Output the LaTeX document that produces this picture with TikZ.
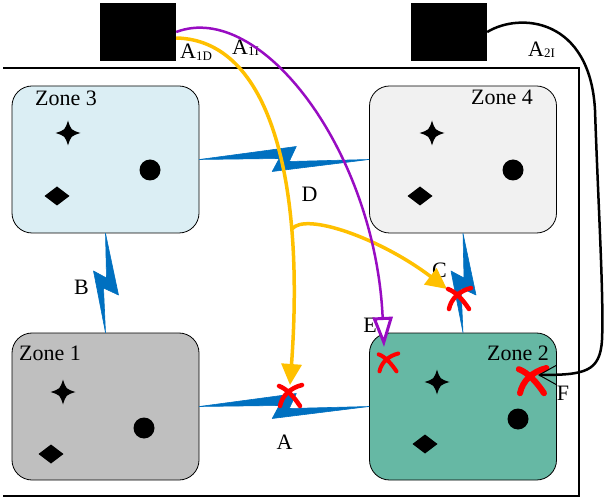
\documentclass[tikz,border=0pt]{standalone}
\usepackage{fontspec}
\setmainfont{Liberation Serif}
\usetikzlibrary{calc,arrows.meta}
\definecolor{zoneblue}{HTML}{DBEEF4}
\definecolor{zonegrey}{HTML}{F1F1F1}
\definecolor{zonedark}{HTML}{BFBFBF}
\definecolor{zonegreen}{HTML}{66B8A4}
\definecolor{linkblue}{HTML}{0070C0}
\definecolor{pathyellow}{HTML}{FFC000}
\definecolor{pathpurple}{HTML}{980CC2}

\begin{document}
\begin{tikzpicture}[x=1pt, y=-1pt, font=\fontsize{22}{26}\selectfont,
        zone/.style = {draw, rounded corners=20pt, minimum width=187pt, minimum height=147pt, line width=0.8pt},
        blackbox/.style = {fill=black, minimum width=76pt, minimum height=58pt, inner sep=0pt},
        link/.style = {fill=linkblue, draw=linkblue, line width=0.6pt, line join=round},
        lbl/.style = {inner sep=0pt},
        cross/.style = {draw=red, line cap=round}]
        \useasboundingbox (0,0) rectangle (607,502);
        \draw [line width=1.6pt] (3,68) -| (579,496) -- (3,496);

        \node [zone, fill=zoneblue] (z3) at (105.5,159.5) {};
        \node [zone, fill=zonegrey] (z4) at (463,159.5) {};
        \node [zone, fill=zonedark] (z1) at (105.5,406.5) {};
        \node [zone, fill=zonegreen] (z2) at (463,406.5) {};

        \node [lbl, anchor=base west] (t3) at (35,106) {Zone 3};
        \node [lbl, anchor=base west] (t4) at (471,105) {Zone 4};
        \node [lbl, anchor=base west] (t1) at (19,360) {Zone 1};
        \node [lbl, anchor=base west] (t2) at (487,360) {Zone 2};

        \node [blackbox] (s1) at (138,32) {};
        \node [blackbox] (s2) at (449,32) {};

        \foreach \x/\y in {68/133, 432/133, 63/392, 437/382}
                 {
                   \fill [shift={(\x,\y)}] (0,-12.5) .. controls (3,-3) .. (12.5,0) .. controls (3,3) .. (0,12.5)
                         .. controls (-3,3) .. (-12.5,0) .. controls (-3,-3) .. (0,-12.5) -- cycle;
                 }
        \foreach \x/\y in {150/170, 513/170, 144/428, 518/419}
                 {
                   \fill (\x,\y) circle (10.5pt);
                 }
        \foreach \x/\y in {57/196, 420/196, 51/454, 425/444}
                 {
                   \fill (\x,\y) +(-12.5,0) -- +(0,-9.5) -- +(12.5,0) -- +(0,9.5) -- cycle;
                 }

        \foreach \a/\b/\r in {z3.east/z4.west/0, z1.east/z2.west/0, z3.south/z1.north/-90, z4.south/z2.north/-90}
                 {
                   \begin{scope}[shift={($(\a)!.5!(\b)$)}, rotate=\r]
                     \filldraw [link] (\a) -- (12,-13) -- (5,2) -- (\b) -- (-12,12) -- (-5,-1) -- cycle;
                   \end{scope}
                 }

        \node [lbl] (la) at (284.5,442) {A};
        \node [lbl] (lb) at (81.5,287) {B};
        \node [lbl] (lc) at (439.5,270) {C};
        \node [lbl] (ld) at (309.5,194) {D};
        \node [lbl] (le) at (370,325.5) {E};
        \node [lbl] (lf) at (563,393.5) {F};
        \node [lbl, anchor=base west] (a1d) at (180,59) {A{\fontsize{13}{13}\selectfont\raisebox{-2pt}{1D}}};
        \node [lbl, anchor=base west] (a1i) at (232,55) {A{\fontsize{13}{13}\selectfont\raisebox{-1pt}{1I}}};
        \node [lbl, anchor=base west] (a2i) at (528,57) {A{\fontsize{13}{13}\selectfont\raisebox{-1pt}{2I}}};

        \coordinate (ya) at (290,385);
        \coordinate (yd) at (292,229);
        \coordinate (yc) at (447,289);
        \coordinate (pe) at (384,347);
        \coordinate (bf) at (538,375);

        \draw [pathyellow, line width=3.5pt, -{Triangle[length=21pt, width=20pt]}]
              ([yshift=-6pt]s1.east) .. controls (270,40) and (305,180) .. (ya);
        \draw [pathyellow, line width=3.5pt, -{Triangle[length=21pt, width=20pt]}]
              (yd) .. controls (305,212) and (380,238) .. (yc);
        \draw [pathpurple, line width=2.5pt, -{Triangle[length=30pt, width=20pt, fill=white, line width=3pt]}]
              (s1.east) .. controls (260,0) and (375,150) .. (pe);

        \foreach \x/\y/\s/\w in {290/395/1/4.5pt, 459/298/1/4.5pt, 388/362/0.85/4pt, 532/380/1.2/6pt}
                 {
                   \draw [cross, line width=\w, shift={(\x,\y)}, scale=\s] (-10,11) .. controls (-8,1) and (0,-7) .. (12,-10)
                         (-11,-9) .. controls (-3,-6) and (4,2) .. (10,11);
                 }

        \draw [line width=2.5pt, -{Straight Barb[length=17pt, width=19pt, line width=1pt]}]
              (s2.east) .. controls (520,12) and (590,18) .. (595,110) .. controls (598,200) and (604,300) .. (602,340)
              .. controls (600,372) and (585,375) .. (bf);
\end{tikzpicture}
\end{document}
